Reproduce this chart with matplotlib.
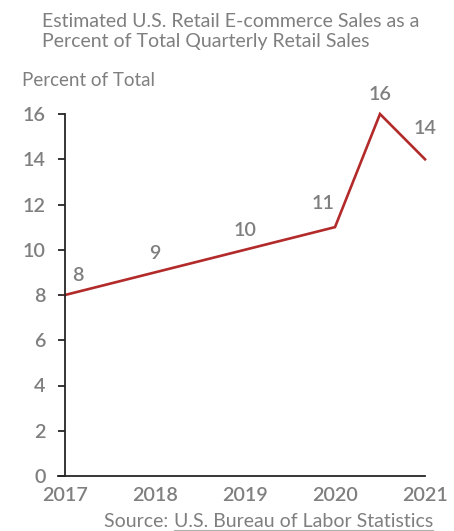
import matplotlib
matplotlib.use("Agg")
import matplotlib.pyplot as plt
from matplotlib.lines import Line2D

years = [2017, 2018, 2019, 2020, 2020.5, 2021]
values = [8, 9, 10, 11, 16, 14]
labels = ["8", "9", "10", "11", "16", "14"]
label_offsets = [(9.4, 13.7), (0, 13.7), (0, 13.7), (-8.6, 17.3), (0, 13.7), (0, 22.3)]
yticks = [0, 2, 4, 6, 8, 10, 12, 14, 16]
xticks = [2017, 2018, 2019, 2020, 2021]

GRAY = "#7f7f7f"
RED = "#b22a2a"
AX = "#262626"
FONT = "Lato"
NUM = 14.2
NUMW = "semibold"

fig = plt.figure(figsize=(4.54, 5.31), dpi=100)
ax = fig.add_axes([65/454, 1-476/531, (425-65)/454, (476-114)/531])

ax.plot(years, values, color=RED, lw=1.9, clip_on=False, solid_joinstyle="miter")
for x, y, t, (dx, dy) in zip(years, values, labels, label_offsets):
    ax.annotate(t, (x, y), xytext=(dx, dy), textcoords="offset points",
                ha="center", va="center", fontsize=NUM, color=GRAY, family=FONT,
                fontweight=NUMW)

ax.set_xlim(2017, 2021)
ax.set_ylim(0, 16)
ax.set_yticks(yticks)
ax.set_xticks(xticks)
ax.set_yticklabels([str(v) for v in yticks])
ax.set_xticklabels([str(v) for v in xticks])
for s in ["top", "right"]:
    ax.spines[s].set_visible(False)
for s in ["left", "bottom"]:
    ax.spines[s].set_color(AX)
    ax.spines[s].set_linewidth(1.3)
ax.tick_params(axis="y", length=5, width=1.3, color=AX, labelsize=NUM,
               labelcolor=GRAY, pad=9)
ax.tick_params(axis="x", length=0, labelsize=NUM, labelcolor=GRAY, pad=8)
for lab in ax.get_xticklabels() + ax.get_yticklabels():
    lab.set_family(FONT)
    lab.set_fontweight(NUMW)
ax.spines["bottom"].set_bounds(2017 - 0.08, 2021)

fig.text(42/454, 1-27/531, "Estimated U.S. Retail E-commerce Sales as a",
         ha="left", va="baseline", fontsize=14, color=GRAY, family=FONT)
fig.text(42/454, 1-47/531, "Percent of Total Quarterly Retail Sales",
         ha="left", va="baseline", fontsize=14, color=GRAY, family=FONT)
fig.text(22/454, 1-86/531, "Percent of Total", ha="left", va="baseline",
         fontsize=13.5, color=GRAY, family=FONT)

t2 = fig.text(433/454, 1-527/531, "U.S. Bureau of Labor Statistics",
              ha="right", va="baseline", fontsize=14, color=GRAY, family=FONT)
fig.canvas.draw()
r = fig.canvas.get_renderer()
bb2 = t2.get_window_extent(r)
fig.text(bb2.x0/fig.bbox.width, 1-527/531, "Source: ", ha="right", va="baseline",
         fontsize=14, color=GRAY, family=FONT)
uy = (531 - 529.5) / 531
fig.add_artist(Line2D([bb2.x0/fig.bbox.width, bb2.x1/fig.bbox.width], [uy, uy],
                      transform=fig.transFigure, color="#b0b0b0", lw=0.8))

fig.savefig("out.png", dpi=100)
